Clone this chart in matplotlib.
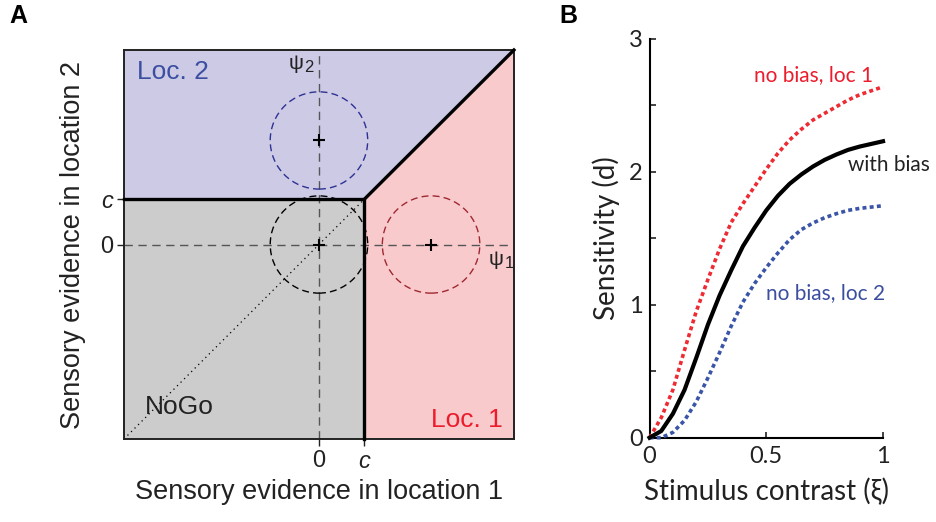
import numpy as np
import matplotlib
matplotlib.use("Agg")
import matplotlib.pyplot as plt
from matplotlib.patches import Polygon, Circle

# ---------------- data ----------------
# Panel A (decision space, units of noise s.d.)
lim_a = 4.0
crit_c = 0.93
mean_loc1 = (2.30, 0.0)
mean_loc2 = (0.0, 2.14)
mean_null = (0.0, 0.0)
circle_r = 1.0
a_ticks = [0.0, crit_c]
a_ticklabels = ["0", "c"]

# Panel B (sensitivity vs contrast)
contrast = [0.0, 0.05, 0.1, 0.15, 0.2, 0.25, 0.3, 0.35, 0.4, 0.45, 0.5,
            0.55, 0.6, 0.65, 0.7, 0.75, 0.8, 0.85, 0.9, 0.95, 1.0]
d_nobias_loc1 = [0.0, 0.15, 0.36, 0.66, 0.95, 1.19, 1.42, 1.62, 1.76, 1.89, 2.02,
                 2.14, 2.24, 2.32, 2.39, 2.44, 2.49, 2.54, 2.58, 2.61, 2.64]
d_with_bias = [0.0, 0.05, 0.18, 0.36, 0.60, 0.85, 1.07, 1.26, 1.44, 1.58, 1.71,
               1.82, 1.91, 1.98, 2.04, 2.09, 2.13, 2.165, 2.19, 2.21, 2.23]
d_nobias_loc2 = [0.0, 0.0, 0.04, 0.13, 0.27, 0.45, 0.64, 0.84, 1.02, 1.16, 1.28,
                 1.39, 1.49, 1.565, 1.615, 1.655, 1.685, 1.71, 1.725, 1.735, 1.745]
b_xticks = [0, 0.5, 1]
b_xticklabels = ["0", "0.5", "1"]
b_yticks = [0, 1, 2, 3]
b_yminor = [0.5, 1.5, 2.5]

# ---------------- style ----------------
FA = ["Liberation Sans", "DejaVu Sans"]
FB = ["Lato", "DejaVu Sans"]
plt.rcParams["font.family"] = FA

c_loc2_fill = "#cdcae6"
c_loc1_fill = "#f8cacc"
c_nogo_fill = "#cccccc"
c_loc2_txt = "#3b4ea0"
c_loc1_txt = "#ec1c2c"
c_red_line = "#ee2a33"
c_blue_line = "#3a55a8"

fig = plt.figure(figsize=(9.37, 5.22), dpi=100)

# ================= Panel A =================
axA = fig.add_axes([0.1323, 0.159, 0.4162, 0.7452])
L = lim_a
c = crit_c
axA.set_xlim(-L, L)
axA.set_ylim(-L, L)

axA.add_patch(Polygon([(-L, -L), (c, -L), (c, c), (-L, c)], closed=True,
                      facecolor=c_nogo_fill, edgecolor="none", zorder=0))
axA.add_patch(Polygon([(c, -L), (L, -L), (L, L), (c, c)], closed=True,
                      facecolor=c_loc1_fill, edgecolor="none", zorder=0))
axA.add_patch(Polygon([(-L, c), (c, c), (L, L), (-L, L)], closed=True,
                      facecolor=c_loc2_fill, edgecolor="none", zorder=0))

# gray dashed axes through the origin
axA.axhline(0, color="#555555", lw=1.0, ls=(0, (6, 4)), zorder=1)
axA.axvline(0, color="#555555", lw=1.0, ls=(0, (6, 4)), zorder=1)
# dotted diagonal in NoGo region
axA.plot([-L, c], [-L, c], color="black", lw=0.9, ls=(0, (1, 3)), zorder=1)

# decision boundaries
axA.plot([-L, c, c], [c, c, -L], color="black", lw=2.4, zorder=3,
         solid_joinstyle="miter", clip_on=False)
axA.plot([c, L], [c, L], color="black", lw=2.4, zorder=3, clip_on=False)

# noise circles
for (mx, my), col in [(mean_null, "black"), (mean_loc1, "#a02832"),
                      (mean_loc2, "#2e3192")]:
    axA.add_patch(Circle((mx, my), circle_r, fill=False, edgecolor=col,
                         lw=1.0, ls=(0, (5, 3)), zorder=2))
    axA.plot([mx], [my], marker="+", color="black", ms=8, mew=1.5, zorder=4)

axA.text(-3.73, 3.55, "Loc. 2", color=c_loc2_txt, fontsize=19, va="center", ha="left")
axA.text(3.77, -3.61, "Loc. 1", color=c_loc1_txt, fontsize=19, va="center", ha="right")
axA.text(-3.57, -3.34, "NoGo", color="#222222", fontsize=19, va="center", ha="left")
axA.text(-0.62, 3.73, "ψ", color="#222222", fontsize=15, va="center", ha="left")
axA.text(-0.30, 3.63, "2", color="#222222", fontsize=12, va="center", ha="left")
axA.text(3.49, -0.30, "ψ", color="#222222", fontsize=15, va="center", ha="left")
axA.text(3.81, -0.40, "1", color="#222222", fontsize=12, va="center", ha="left")

axA.set_xticks(a_ticks)
axA.set_xticklabels(a_ticklabels)
axA.set_yticks(a_ticks)
axA.set_yticklabels(a_ticklabels)
for lab in axA.get_xticklabels() + axA.get_yticklabels():
    if lab.get_text() == "c":
        lab.set_fontstyle("italic")
axA.tick_params(direction="out", length=5, width=1.0, labelsize=17, pad=3,
                colors="#222222")
for s in axA.spines.values():
    s.set_linewidth(1.4)
    s.set_color("#222222")
axA.set_xlabel("Sensory evidence in location 1", fontsize=19.5, color="#222222",
               labelpad=4)
axA.set_ylabel("Sensory evidence in location 2", fontsize=19.5, color="#222222",
               labelpad=10)

# ================= Panel B =================
axB = fig.add_axes([0.6932, 0.1615, 0.2492, 0.764])
axB.set_xlim(0, 1)
axB.set_ylim(0, 3)
axB.plot(contrast, d_nobias_loc1, color=c_red_line, lw=2.6,
         ls=(0, (1.1, 0.9)), clip_on=False, zorder=3)
axB.plot(contrast, d_nobias_loc2, color=c_blue_line, lw=2.6,
         ls=(0, (1.1, 0.9)), clip_on=False, zorder=3)
axB.plot(contrast, d_with_bias, color="black", lw=3.0, clip_on=False, zorder=4)

axB.text(0.448, 2.73, "no bias, loc 1", color=c_loc1_txt, fontsize=15,
         va="center", ha="left", family=FB)
axB.text(0.85, 2.05, "with bias", color="#222222", fontsize=15,
         va="center", ha="left", family=FB)
axB.text(0.499, 1.09, "no bias, loc 2", color=c_loc2_txt, fontsize=15,
         va="center", ha="left", family=FB)

axB.spines["top"].set_visible(False)
axB.spines["right"].set_visible(False)
for s in ("left", "bottom"):
    axB.spines[s].set_linewidth(1.5)
axB.set_xticks(b_xticks)
axB.set_xticklabels(b_xticklabels, family=FB)
axB.set_yticks(b_yticks)
axB.set_yticklabels([str(v) for v in b_yticks], family=FB)
axB.set_yticks(b_yminor, minor=True)
axB.tick_params(which="both", direction="in", length=4, width=1.2,
                labelsize=17, colors="#222222")
axB.tick_params(axis="x", pad=6)
axB.tick_params(axis="y", pad=5)
axB.set_xlabel("Stimulus contrast (ξ)", fontsize=20, family=FB, color="#222222",
               labelpad=8)
axB.set_ylabel("Sensitivity (d)", fontsize=20, family=FB, color="#222222",
               labelpad=6)

fig.text(18 / 937, 1 - 16 / 522, "A", fontsize=18, fontweight="bold",
         ha="center", va="center", family=FA)
fig.text(568 / 937, 1 - 16 / 522, "B", fontsize=18, fontweight="bold",
         ha="center", va="center", family=FA)

fig.savefig("out.png", dpi=100)
